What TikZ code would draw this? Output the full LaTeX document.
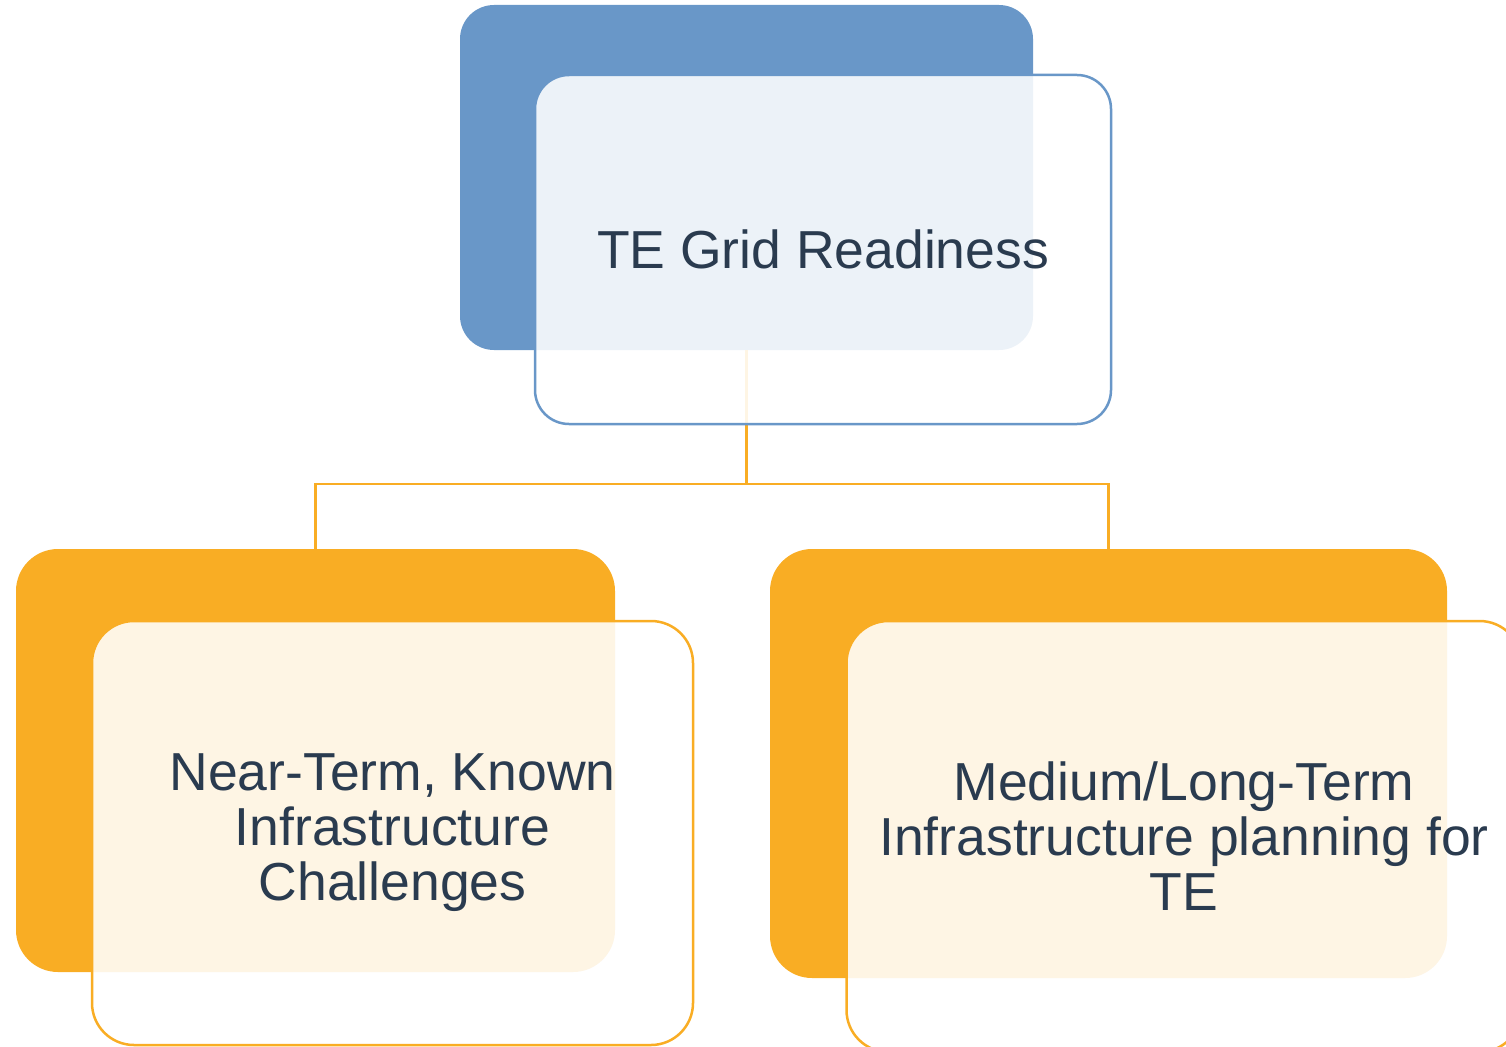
\documentclass[tikz,border=0pt]{standalone}
\usepackage{fontspec}
\setmainfont{Liberation Sans}
\definecolor{bblue}{HTML}{6997C8}
\definecolor{borange}{HTML}{F9AD24}
\definecolor{txt}{HTML}{2A3B4F}
\tikzset{
  backbox/.style={inner sep=0pt, draw=none},
  frontbox/.style={inner sep=0pt, line width=2.5pt, fill=white, fill opacity=0.88, text opacity=1,
    text=txt, align=center, font=\fontsize{53.5}{55}\selectfont},
  conn/.style={draw=borange, line width=2.8pt}
}
\begin{document}
\begin{tikzpicture}[x=1pt,y=-1pt]
\useasboundingbox (0,0) rectangle (1506,1046);
\clip (0,0) rectangle (1506,1046);
% back boxes
\node[backbox, fill=bblue, rounded corners=34pt, minimum width=573pt, minimum height=345pt] (tb) at (746.5,177.5) {};
\node[backbox, fill=borange, rounded corners=42pt, minimum width=599pt, minimum height=423pt] (lb) at (315.5,760.5) {};
\node[backbox, fill=borange, rounded corners=42pt, minimum width=677pt, minimum height=429pt] (rb) at (1108.5,763.5) {};
% connectors
\coordinate (mid) at (746.5,484);
\draw[conn] (tb.south) -- (tb.south |- mid) -| (lb.north);
\draw[conn] (tb.south |- mid) -| (rb.north);
% front boxes
\node[frontbox, draw=bblue, rounded corners=34pt, minimum width=576pt, minimum height=349pt] (tf) at (823,249.5) {TE Grid Readiness};
\node[frontbox, draw=borange, rounded corners=42pt, minimum width=601pt, minimum height=424pt] (lf) at (392.5,833) {\raisebox{-2pt}{\parbox{560pt}{\centering Near-Term, Known\\Infrastructure\\Challenges}}};
\node[frontbox, draw=borange, rounded corners=42pt, minimum width=675pt, minimum height=431pt] (rf) at (1184,836.5) {Medium/Long-Term\\Infrastructure planning for\\TE};
\end{tikzpicture}
\end{document}
